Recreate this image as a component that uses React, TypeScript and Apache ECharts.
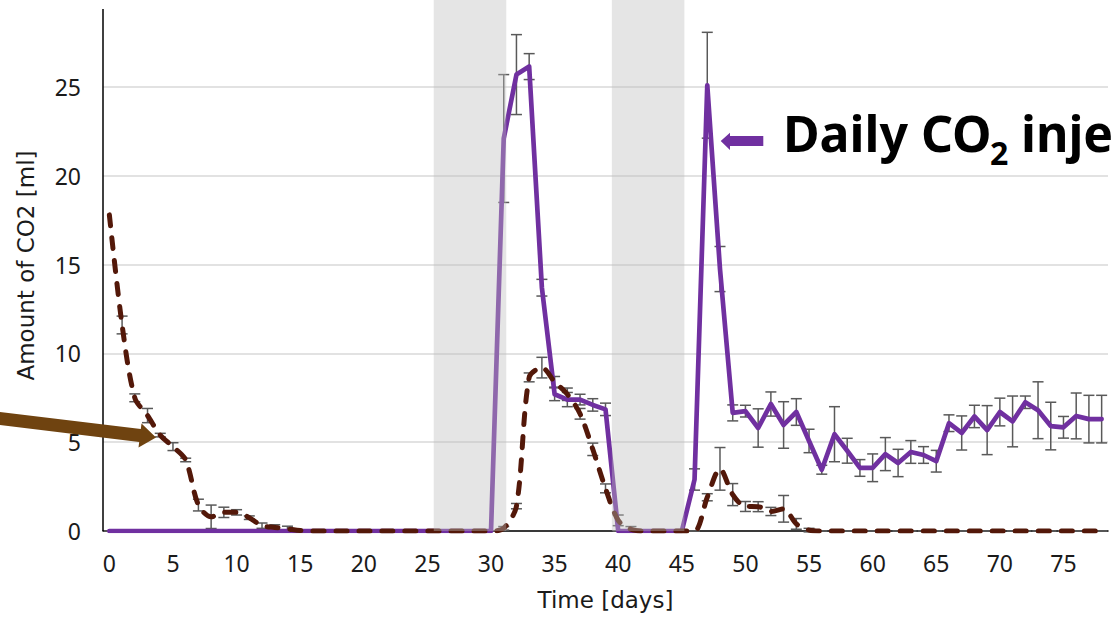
import React, { useEffect, useRef } from "react";
import * as echarts from "echarts";

// Day numbers (category axis)
const days = [
  "0", "1", "2", "3", "4", "5", "6", "7", "8", "9",
  "10", "11", "12", "13", "14", "15", "16", "17", "18", "19",
  "20", "21", "22", "23", "24", "25", "26", "27", "28", "29",
  "30", "31", "32", "33", "34", "35", "36", "37", "38", "39",
  "40", "41", "42", "43", "44", "45", "46", "47", "48", "49",
  "50", "51", "52", "53", "54", "55", "56", "57", "58", "59",
  "60", "61", "62", "63", "64", "65", "66", "67", "68", "69",
  "70", "71", "72", "73", "74", "75", "76", "77", "78",
];

// Daily CO2 injection (purple, solid)
const injection = [
  0, 0, 0, 0, 0, 0, 0, 0, 0, 0,
  0, 0, 0, 0, 0, 0, 0, 0, 0, 0,
  0, 0, 0, 0, 0, 0, 0, 0, 0, 0,
  0, 22.1, 25.7, 26.15, 13.7, 7.7, 7.4, 7.4, 7.1, 6.85,
  0, 0, 0, 0, 0, 0, 2.9, 25.1, 14.75, 6.65,
  6.75, 5.8, 7.15, 5.97, 6.7, 5.07, 3.45, 5.45, 4.52, 3.55,
  3.56, 4.33, 3.83, 4.45, 4.28, 3.93, 6.07, 5.52, 6.45, 5.68,
  6.7, 6.17, 7.25, 6.8, 5.91, 5.84, 6.48, 6.3, 6.3,
];
const injectionErr = [
  0, 0, 0, 0, 0, 0, 0, 0, 0, 0,
  0, 0, 0, 0, 0, 0, 0, 0, 0, 0,
  0, 0, 0, 0, 0, 0, 0, 0, 0, 0,
  0, 3.6, 2.25, 0.73, 0.47, 0.36, 0.4, 0.3, 0.35, 0.35,
  0, 0, 0, 0, 0, 0, 0.6, 2.98, 1.27, 0.45,
  0.33, 1.08, 0.68, 1.31, 0.75, 0.66, 0.25, 1.55, 0.7, 0.47,
  0.78, 0.93, 0.77, 0.64, 0.47, 0.61, 0.47, 0.96, 0.63, 1.38,
  0.78, 1.43, 0.35, 1.6, 1.34, 0.61, 1.29, 1.34, 1.34,
];

// Second measured CO2 series (dark brown, dashed)
const produced = [
  17.8, 11.6, 7.5, 6.5, 5.4, 4.75, 4.0, 1.46, 0.8, 1.05,
  1.05, 0.75, 0.3, 0.2, 0.12, 0.03, 0, 0, 0, 0,
  0, 0, 0, 0, 0, 0, 0, 0, 0, 0,
  0, 0.15, 1.4, 8.65, 9.2, 8.4, 7.7, 6.6, 4.6, 2.4,
  0.6, 0.1, 0, 0, 0, 0, 0, 1.9, 3.5, 2.05,
  1.38, 1.37, 1.1, 1.25, 0.4, 0.05, 0, 0, 0, 0,
  0, 0, 0, 0, 0, 0, 0, 0, 0, 0,
  0, 0, 0, 0, 0, 0, 0, 0, 0,
];
const producedErr = [
  0, 0.5, 0.22, 0.4, 0.1, 0.22, 0.1, 0.33, 0.66, 0.29,
  0.15, 0.1, 0.15, 0.15, 0.15, 0, 0, 0, 0, 0,
  0, 0, 0, 0, 0, 0, 0, 0, 0, 0,
  0, 0.1, 0.15, 0.25, 0.58, 0.3, 0.35, 0.3, 0.35, 0.25,
  0.3, 0.15, 0, 0, 0, 0, 0, 0.2, 1.2, 0.62,
  0.28, 0.28, 0.23, 0.75, 0.3, 0.1, 0, 0, 0, 0,
  0, 0, 0, 0, 0, 0, 0, 0, 0, 0,
  0, 0, 0, 0, 0, 0, 0, 0, 0,
];

// Shaded periods (in days)
const shadedPeriods = [
  [25.5, 31.2],
  [39.5, 45.2],
];

const yMin = 0;
const yMax = 29.9;
const yAxisLineTop = 29.4;
const yInterval = 5;

const PURPLE = "#7030A0";
const BROWN = "#531809";
const ARROW_BROWN = "#6F4310";
const ERR = "#595959";
const FONT = "'Noto Sans', sans-serif";
const TITLE_FONT = "'DejaVu Sans', sans-serif";

export default function App() {
  const ref = useRef<HTMLDivElement>(null);

  useEffect(() => {
    const chart = echarts.init(ref.current!, null, { renderer: "svg" });

    const errData = (vals: number[], errs: number[]) =>
      vals.map((v, i) => [i, v, errs[i]]);

    const errRender = (_params: any, api: any) => {
      const i = api.value(0);
      const v = api.value(1);
      const e = api.value(2);
      if (e === 0 && v > 0) return null;
      const top = api.coord([i, v + e]);
      const bot = api.coord([i, v - e]);
      const hw = 5.5;
      const style = { stroke: ERR, lineWidth: 1.5, fill: "none" };
      return {
        type: "group",
        children: [
          { type: "line", shape: { x1: top[0], y1: top[1], x2: bot[0], y2: bot[1] }, style },
          { type: "line", shape: { x1: top[0] - hw, y1: top[1], x2: top[0] + hw, y2: top[1] }, style },
          { type: "line", shape: { x1: bot[0] - hw, y1: bot[1], x2: bot[0] + hw, y2: bot[1] }, style },
        ],
      };
    };

    const option: any = {
      animation: false,
      grid: { left: 103, right: 7, top: 0, bottom: 86, containLabel: false },
      xAxis: [
        {
          type: "category",
          data: days,
          boundaryGap: true,
          axisLine: { show: true, lineStyle: { color: "#000", width: 1.5 } },
          axisTick: { show: false },
          axisLabel: {
            interval: 4,
            fontFamily: FONT,
            fontSize: 23,
            color: "#1a1a1a",
            margin: 20,
          },
          splitLine: { show: false },
          name: "Time [days]",
          nameLocation: "middle",
          nameGap: 57,
          nameTextStyle: { fontFamily: TITLE_FONT, fontSize: 23, color: "#1a1a1a" },
        },
        { type: "value", min: -0.5, max: 78.5, show: false },
      ],
      yAxis: {
        type: "value",
        min: yMin,
        max: yMax,
        interval: yInterval,
        axisLine: { show: false },
        axisTick: { show: false },
        axisLabel: {
          showMaxLabel: false,
          fontFamily: FONT,
          fontSize: 23,
          color: "#1a1a1a",
          margin: 22,
          formatter: (v: number) => (v % yInterval === 0 ? String(v) : ""),
        },
        splitLine: {
          show: true,
          showMaxLine: false,
          lineStyle: { color: "#d9d9d9", width: 1.5 },
        },
        name: "Amount of CO2 [ml]",
        nameLocation: "middle",
        nameGap: 66,
        nameRotate: 90,
        nameTextStyle: { fontFamily: TITLE_FONT, fontSize: 23, color: "#1a1a1a", padding: [0, 0, 0, 0] },
      },
      series: [
        {
          type: "custom",
          name: "injErr",
          xAxisIndex: 0,
          renderItem: errRender,
          data: errData(injection, injectionErr),
          encode: { x: 0, y: 1 },
          z: 2,
          silent: true,
        },
        {
          type: "custom",
          name: "prodErr",
          xAxisIndex: 0,
          renderItem: errRender,
          data: errData(produced, producedErr),
          encode: { x: 0, y: 1 },
          z: 2,
          silent: true,
        },
        {
          type: "line",
          name: "Daily CO2 injection",
          data: injection,
          symbol: "none",
          lineStyle: { color: PURPLE, width: 4.7, join: "round", cap: "round" },
          z: 3,
        },
        {
          type: "line",
          name: "CO2 measured",
          data: produced,
          symbol: "none",
          smooth: 0.3,
          lineStyle: { color: BROWN, width: 5, type: [11, 12], cap: "round", join: "round" },
          z: 4,
        },
        {
          type: "line",
          name: "yAxisLine",
          xAxisIndex: 1,
          data: [],
          z: 6,
          silent: true,
          markLine: {
            silent: true,
            symbol: "none",
            label: { show: false },
            lineStyle: { color: "#000", width: 1.5, type: "solid" },
            data: [[{ coord: [-0.5, yMin] }, { coord: [-0.5, yAxisLineTop] }]],
          },
        },
        {
          type: "line",
          name: "shade",
          xAxisIndex: 1,
          data: [],
          z: 10,
          silent: true,
          markArea: {
            silent: true,
            z: 10,
            itemStyle: { color: "rgba(190,190,190,0.4)" },
            data: shadedPeriods.map(([a, b]) => [{ xAxis: a }, { xAxis: b }]),
          },
        },
      ],
      graphic: [
        {
          type: "polygon",
          z: 100,
          shape: {
            points: [
              [0, 412], [140.8, 429], [141.5, 423.6], [156, 437.5],
              [138.5, 447.4], [139.2, 442], [0, 425],
            ],
          },
          style: { fill: ARROW_BROWN },
        },
        {
          type: "polygon",
          z: 100,
          shape: {
            points: [
              [763.3, 136], [730, 136], [730, 132.7], [720.7, 141],
              [730, 150], [730, 146], [763.3, 146],
            ],
          },
          style: { fill: PURPLE },
        },
        {
          type: "text",
          z: 100,
          x: 783,
          y: 133,
          style: {
            text: "Daily CO",
            fontFamily: FONT,
            fontWeight: "bold",
            fontSize: 50,
            fill: "#000",
            verticalAlign: "middle",
            align: "left",
          },
        },
        {
          type: "text",
          z: 100,
          x: 990,
          y: 152,
          style: {
            text: "2",
            fontFamily: FONT,
            fontWeight: "bold",
            fontSize: 32,
            fill: "#000",
            verticalAlign: "middle",
            align: "left",
          },
        },
        {
          type: "text",
          z: 100,
          x: 1021,
          y: 133,
          style: {
            text: "injection",
            fontFamily: FONT,
            fontWeight: "bold",
            fontSize: 50,
            fill: "#000",
            verticalAlign: "middle",
            align: "left",
          },
        },
      ],
    };

    chart.setOption(option);
    return () => chart.dispose();
  }, []);

  return (
    <div
      ref={ref}
      style={{ position: "absolute", left: 0, top: 0, width: 1115, height: 617, background: "#fff" }}
    />
  );
}
